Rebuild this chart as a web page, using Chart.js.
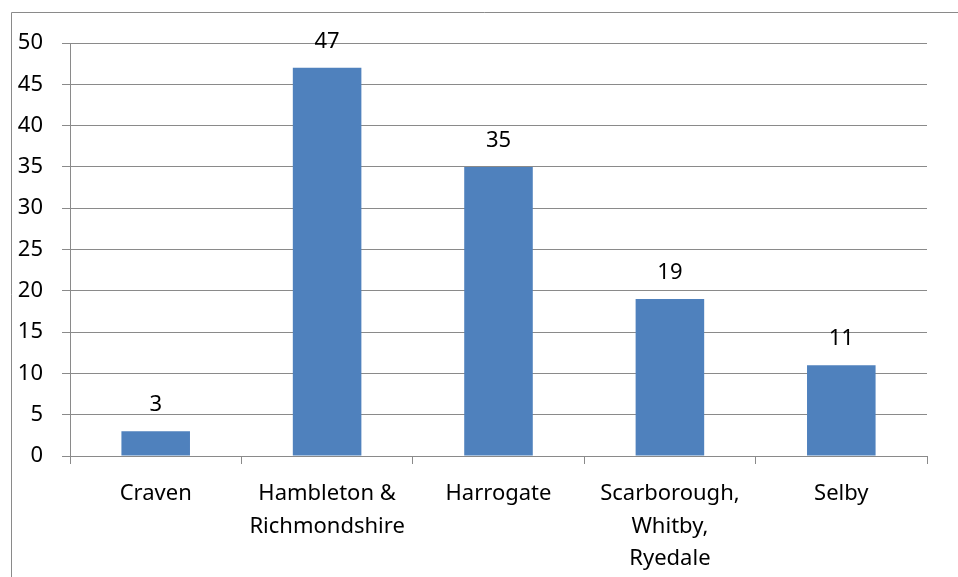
<!DOCTYPE html>
<html>
<head>
<meta charset="utf-8">
<script src="https://cdn.jsdelivr.net/npm/chart.js@4"></script>
<style>
  html, body { margin: 0; padding: 0; background: #fff; }
  #wrap { width: 958px; height: 577px; position: relative; }
</style>
</head>
<body>
<div id="wrap"><canvas id="chart"></canvas></div>
<script>
const districts = [
  'Craven',
  ['Hambleton &', 'Richmondshire'],
  'Harrogate',
  ['Scarborough,', 'Whitby,', 'Ryedale'],
  'Selby'
];
const counts = [3, 47, 35, 19, 11];
const yTicks = [0, 5, 10, 15, 20, 25, 30, 35, 40, 45, 50];

const FONT = "'Noto Sans', sans-serif";
const LINE = '#8a8a8a';

// thin frame along the top and left, the rest runs off the canvas
const framePlugin = {
  id: 'frame',
  beforeDraw(chart) {
    const ctx = chart.ctx;
    ctx.save();
    ctx.strokeStyle = LINE;
    ctx.lineWidth = 1;
    ctx.beginPath();
    ctx.moveTo(11.5, chart.height);
    ctx.lineTo(11.5, 12.5);
    ctx.lineTo(chart.width, 12.5);
    ctx.stroke();
    ctx.restore();
  }
};

// value printed above each bar
const valuePlugin = {
  id: 'values',
  afterDatasetsDraw(chart) {
    const ctx = chart.ctx;
    const meta = chart.getDatasetMeta(0);
    ctx.save();
    ctx.font = '22px ' + FONT;
    ctx.fillStyle = '#000';
    ctx.textAlign = 'center';
    ctx.textBaseline = 'middle';
    meta.data.forEach((bar, i) => {
      ctx.fillText(String(counts[i]), bar.x, bar.y - 26);
    });
    ctx.restore();
  }
};

new Chart(document.getElementById('chart'), {
  type: 'bar',
  data: {
    labels: districts,
    datasets: [{
      data: counts,
      backgroundColor: '#4f81bd',
      borderWidth: 0,
      barPercentage: 0.4,
      categoryPercentage: 1
    }]
  },
  options: {
    responsive: true,
    maintainAspectRatio: false,
    animation: false,
    layout: { padding: { left: 0, right: 31, top: 43, bottom: 0 } },
    plugins: {
      legend: { display: false },
      tooltip: { enabled: false }
    },
    scales: {
      y: {
        min: 0,
        max: 50,
        afterFit(scale) { scale.width = 70; },
        afterBuildTicks(scale) { scale.ticks = yTicks.map(v => ({ value: v })); },
        grid: { color: LINE, lineWidth: 1, tickLength: 8 },
        border: { color: LINE, width: 1 },
        ticks: { color: '#000', padding: 19, font: { family: FONT, size: 22 } }
      },
      x: {
        offset: true,
        afterFit(scale) { scale.height = 121; },
        grid: { offset: true, drawOnChartArea: false, color: LINE, tickLength: 8 },
        border: { color: LINE, width: 1 },
        ticks: { color: '#000', padding: 14, maxRotation: 0, autoSkip: false,
                 font: { family: FONT, size: 22, lineHeight: 1.47 } }
      }
    }
  },
  plugins: [framePlugin, valuePlugin]
});
</script>
</body>
</html>
